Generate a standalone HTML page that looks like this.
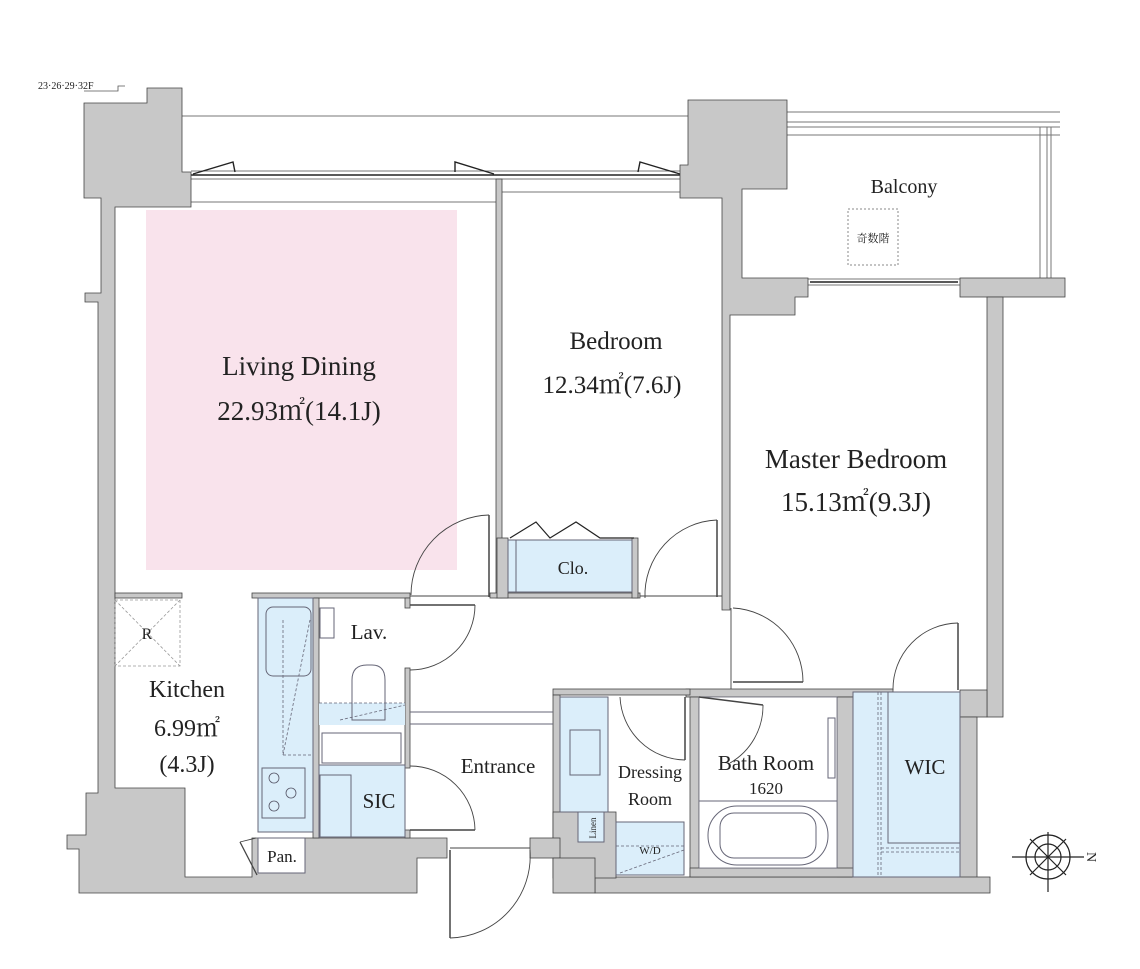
<!DOCTYPE html>
<html><head><meta charset="utf-8"><style>
html,body{margin:0;padding:0;background:#fff;}
svg{display:block;}
text{font-family:"Liberation Serif","Noto Serif CJK SC",serif;fill:#222;}
</style></head><body>
<svg width="1140" height="969" viewBox="0 0 1140 969" xmlns="http://www.w3.org/2000/svg">
<text x="38" y="89" font-size="10">23·26·29·32F</text>
<polyline points="84,91 118,91 118,86 125,86" fill="none" stroke="#555" stroke-width="0.8"/>

<rect x="146" y="210" width="311" height="360" fill="#f9e3ec"/>

<g stroke="#777" stroke-width="1" fill="none">
<line x1="182" y1="116" x2="688" y2="116"/>
<line x1="787" y1="112" x2="1060" y2="112"/>
<line x1="787" y1="122" x2="1060" y2="122"/>
<line x1="787" y1="127" x2="1060" y2="127"/>
<line x1="787" y1="135" x2="1060" y2="135"/>
<line x1="1040" y1="127" x2="1040" y2="278"/>
<line x1="1047" y1="127" x2="1047" y2="278"/>
<line x1="1051" y1="127" x2="1051" y2="278"/>
<line x1="191" y1="171" x2="688" y2="171"/>
<line x1="191" y1="179" x2="688" y2="179"/>
<line x1="191" y1="202" x2="496" y2="202"/>
<line x1="502" y1="192" x2="688" y2="192"/>
<line x1="808" y1="279" x2="960" y2="279"/>
<line x1="808" y1="285" x2="960" y2="285"/>
</g>
<g stroke="#222" stroke-width="1.4" fill="none">
<line x1="191" y1="175" x2="688" y2="175"/>
<polyline points="193,174 233,162 235,172"/>
<polyline points="494,174 455,162 455,172"/>
<polyline points="680,174 640,162 638,172"/>
<line x1="810" y1="282" x2="958" y2="282"/>
</g>
<rect x="848" y="209" width="50" height="56" fill="none" stroke="#888" stroke-dasharray="2,2"/>
<text x="873" y="242" font-size="11" text-anchor="middle" font-family="'Noto Serif CJK SC',serif">奇数階</text>

<g fill="#c8c8c8" stroke="#444" stroke-width="0.8">
<polygon points="84,103 147,103 147,88 182,88 182,172 191,172 191,207 115,207 115,788 185,788 185,877 252,877 252,838 447,838 447,858 417,858 417,893 79,893 79,849 67,849 67,835 86,835 86,793 98,793 98,302 85,302 85,293 101,293 101,198 84,198"/>
<rect x="115" y="593" width="67" height="5"/>
<rect x="252" y="593" width="158" height="5"/>
<rect x="313" y="598" width="6" height="240"/>
<rect x="405" y="598" width="5" height="10"/>
<rect x="405" y="668" width="5" height="100"/>
<rect x="405" y="830" width="5" height="8"/>
<rect x="496" y="179" width="6" height="419"/>
<rect x="490" y="593" width="150" height="5"/>
<rect x="632" y="538" width="6" height="60"/>
<rect x="497" y="538" width="11" height="60"/>
<polygon points="688,100 787,100 787,189 742,189 742,278 808,278 808,297 795,297 795,315 730,315 730,610 722,610 722,198 680,198 680,165 688,165"/>
<rect x="960" y="278" width="105" height="19"/>
<rect x="987" y="297" width="16" height="420"/>
<rect x="960" y="690" width="27" height="27"/>
<rect x="960" y="717" width="17" height="166"/>
<rect x="595" y="877" width="395" height="16"/>
<rect x="686" y="689" width="207" height="8"/>
<rect x="690" y="697" width="9" height="180"/>
<rect x="837" y="697" width="16" height="180"/>
<rect x="690" y="868" width="163" height="9"/>
<rect x="553" y="689" width="137" height="6"/>
<rect x="553" y="695" width="7" height="165"/>
<rect x="553" y="812" width="63" height="66"/>
<rect x="530" y="838" width="30" height="20"/>
<rect x="553" y="858" width="42" height="35"/>
</g>

<g fill="#dbeefa" stroke="#667" stroke-width="1">
<rect x="258" y="598" width="55" height="234"/>
<rect x="508" y="540" width="124" height="52"/>
<rect x="319" y="765" width="86" height="72"/>
<rect x="320" y="775" width="31" height="62"/>
<rect x="560" y="697" width="48" height="115"/>
<rect x="578" y="812" width="26" height="30"/>
<rect x="616" y="822" width="68" height="53"/>
<rect x="853" y="692" width="107" height="185"/>
<rect x="888" y="692" width="72" height="151"/>
<rect x="262" y="768" width="43" height="50"/>
<rect x="319" y="703" width="86" height="22" stroke="none"/>
</g>
<rect x="699" y="697" width="138" height="171" fill="#fff" stroke="#667" stroke-width="0.8"/>
<rect x="258" y="838" width="47" height="35" fill="#fff" stroke="#667"/>
<g fill="none" stroke="#667" stroke-width="1">
<rect x="266" y="607" width="45" height="69" rx="7"/>
<rect x="322" y="733" width="79" height="30"/>
<rect x="570" y="730" width="30" height="45"/>
<rect x="320" y="608" width="14" height="30"/>
<path d="M352,720 L352,680 Q352,665 367,665 L372,665 Q385,665 385,680 L385,720 Z"/>
<line x1="516" y1="540" x2="516" y2="592"/>
<line x1="699" y1="801" x2="837" y2="801"/>
<rect x="708" y="806" width="120" height="59" rx="29"/>
<rect x="720" y="813" width="96" height="45" rx="14"/>
<rect x="828" y="718" width="7" height="60"/>
<line x1="410" y1="712" x2="553" y2="712"/>
<line x1="410" y1="724" x2="553" y2="724"/>
</g>
<g fill="none" stroke="#667" stroke-width="0.8" stroke-dasharray="3,2">
<line x1="283" y1="755" x2="310" y2="620"/>
<polyline points="283,620 283,755 313,755"/>
<line x1="319" y1="703" x2="405" y2="703"/>
<line x1="340" y1="720" x2="405" y2="705"/>
<line x1="616" y1="846" x2="684" y2="846"/>
<line x1="620" y1="873" x2="684" y2="850"/>
<line x1="878" y1="692" x2="878" y2="877"/>
<line x1="881" y1="692" x2="881" y2="877"/>
<line x1="881" y1="848" x2="960" y2="848"/>
<line x1="881" y1="852" x2="960" y2="852"/>
<rect x="115" y="600" width="65" height="66" stroke="#999"/>
<line x1="115" y1="600" x2="180" y2="666" stroke="#999"/>
<line x1="180" y1="600" x2="115" y2="666" stroke="#999"/>
</g>
<g fill="none" stroke="#556" stroke-width="0.8">
<circle cx="274" cy="778" r="5"/><circle cx="291" cy="793" r="5"/><circle cx="274" cy="806" r="5"/>
</g>
<polyline points="510,538 536,522 550,538 576,522 600,538 634,538" fill="none" stroke="#222" stroke-width="1.2"/>
<g fill="none" stroke="#444" stroke-width="0.9">
<path d="M489,515 A80,80 0 0 0 411,595"/><line x1="489" y1="515" x2="489" y2="597" stroke-width="1.5"/>
<path d="M717,520 A75,75 0 0 0 645,598"/><line x1="717" y1="520" x2="717" y2="597" stroke-width="1.5"/>
<line x1="410" y1="596" x2="490" y2="596"/><line x1="640" y1="596" x2="722" y2="596"/>
<path d="M475,605 A65,65 0 0 1 410,670"/><line x1="410" y1="605" x2="475" y2="605" stroke-width="1.5"/>
<path d="M410,766 A65,65 0 0 1 475,830"/><line x1="410" y1="830" x2="475" y2="830" stroke-width="1.5"/>
<path d="M733,608 A74,74 0 0 1 803,682"/><line x1="733" y1="682" x2="803" y2="682" stroke-width="1.5"/><line x1="731" y1="608" x2="731" y2="689"/>
<path d="M958,623 A66,66 0 0 0 893,690"/><line x1="958" y1="623" x2="958" y2="690" stroke-width="1.5"/>
<path d="M620,697 A66,66 0 0 0 685,760"/><line x1="685" y1="697" x2="685" y2="760" stroke-width="1.5"/>
<path d="M763,705 A66,66 0 0 1 730,763"/><line x1="699" y1="697" x2="763" y2="705" stroke-width="1.5"/>
<path d="M530,850 A82,82 0 0 1 450,938"/><line x1="450" y1="850" x2="450" y2="938" stroke-width="1.5"/>
<line x1="450" y1="848" x2="530" y2="848"/>
<line x1="240" y1="842" x2="257" y2="875" stroke-width="1.3"/>
<line x1="240" y1="842" x2="256" y2="838"/>
</g>

<g stroke="#222" fill="none" stroke-width="1.2">
<circle cx="1048" cy="857" r="22"/><circle cx="1048" cy="857" r="13"/>
<line x1="1012" y1="857" x2="1084" y2="857"/>
<line x1="1048" y1="832" x2="1048" y2="892"/>
<line x1="1030" y1="839" x2="1066" y2="875"/>
<line x1="1066" y1="839" x2="1030" y2="875"/>
</g>
<text x="1092" y="862" font-size="14" transform="rotate(90 1092 857)" text-anchor="middle">N</text>

<text x="299" y="375" font-size="27" text-anchor="middle">Living Dining</text>
<text x="299" y="420" font-size="27" text-anchor="middle">22.93㎡(14.1J)</text>
<text x="616" y="349" font-size="25" text-anchor="middle">Bedroom</text>
<text x="612" y="393" font-size="25" text-anchor="middle">12.34㎡(7.6J)</text>
<text x="856" y="468" font-size="27" text-anchor="middle">Master Bedroom</text>
<text x="856" y="511" font-size="27" text-anchor="middle">15.13㎡(9.3J)</text>
<text x="904" y="193" font-size="20" text-anchor="middle">Balcony</text>
<text x="573" y="574" font-size="18" text-anchor="middle">Clo.</text>
<text x="147" y="639" font-size="16" text-anchor="middle">R</text>
<text x="187" y="697" font-size="24" text-anchor="middle">Kitchen</text>
<text x="187" y="736" font-size="24" text-anchor="middle">6.99㎡</text>
<text x="187" y="772" font-size="24" text-anchor="middle">(4.3J)</text>
<text x="369" y="639" font-size="21" text-anchor="middle">Lav.</text>
<text x="379" y="808" font-size="21" text-anchor="middle">SIC</text>
<text x="498" y="773" font-size="21" text-anchor="middle">Entrance</text>
<text x="650" y="778" font-size="18" text-anchor="middle">Dressing</text>
<text x="650" y="805" font-size="18" text-anchor="middle">Room</text>
<text x="766" y="770" font-size="21" text-anchor="middle">Bath Room</text>
<text x="766" y="794" font-size="17" text-anchor="middle">1620</text>
<text x="925" y="774" font-size="21" text-anchor="middle">WIC</text>
<text x="282" y="862" font-size="17" text-anchor="middle">Pan.</text>
<text x="650" y="854" font-size="11" text-anchor="middle">W/D</text>
<text x="596" y="828" font-size="9" text-anchor="middle" transform="rotate(-90 596 828)">Linen</text>
</svg>
</body></html>
